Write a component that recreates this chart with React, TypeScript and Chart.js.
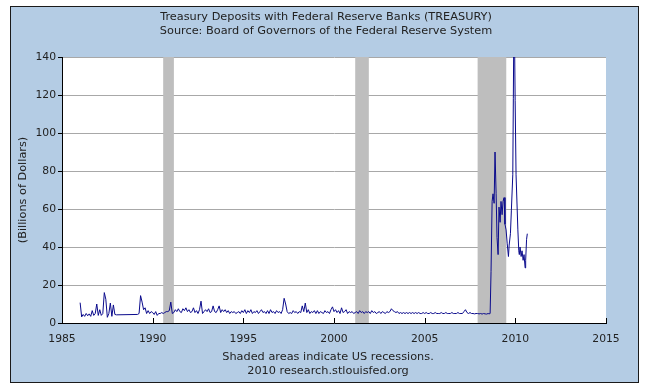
import React, { useEffect, useRef } from "react";
import { Chart, registerables } from "chart.js";

Chart.register(...registerables);

const titleLines = [
  "Treasury Deposits with Federal Reserve Banks (TREASURY)",
  "Source: Board of Governors of the Federal Reserve System",
];
const footerLines = ["Shaded areas indicate US recessions.", "2010 research.stlouisfed.org"];
const yAxisTitle = "(Billions of Dollars)";

const xTicks = [1985, 1990, 1995, 2000, 2005, 2010, 2015];
const yTicks = [0, 20, 40, 60, 80, 100, 120, 140];

const recessionStarts = [1990.58, 2001.17, 2007.92];
const recessionEnds = [1991.17, 2001.92, 2009.5];

// Monthly observations from Jan 1986 (null = no observation)
const monthlyStart = 1986;
const monthlyValues: (number | null)[] = [
  // 1986
  10.7, 3.2, 4.5, 3.5, 5, 3.8, 4.8, 3.5, 6.5, 4, 5, 10,
  // 1987
  4, 7, 4, 5, 16, 12.5, 3, 5, 10.5, 3.5, 9.5, 4.5,
  // 1988
  4.3, null, null, null, null, null, null, null, null, null, null, null,
  // 1989
  null, null, 4.5, 5, 14.4, 11, 7, 8, 5, 6.5, 5, 6,
  // 1990
  5.5, 4.5, 6, 4, 5, 5, 5.5, 5, 5.5, 6, 6, 6.5,
  // 1991
  11, 5, 5.5, 7, 6, 7.5, 6, 5.5, 7.5, 6.5, 8, 6,
  // 1992
  7, 5.5, 6, 8, 5.5, 6.5, 5, 7, 11.5, 5, 6, 7,
  // 1993
  6, 7.5, 5.5, 6, 9, 6, 5.5, 7, 9, 5.5, 7, 6,
  // 1994
  7, 5.5, 6.5, 5, 6, 5.5, 6, 5, 5.5, 6, 5, 6.5,
  // 1995
  5.5, 7, 5, 6.5, 5.5, 7, 5, 6, 5.5, 6.5, 5, 6,
  // 1996
  7, 5.5, 6, 5, 6.5, 5, 7, 5.5, 6, 5, 6.5, 5.5,
  // 1997
  6, 5, 7, 13, 10, 6, 5, 5.5, 5, 6.5, 5.5, 6,
  // 1998
  5, 6, 5.5, 9, 6, 10.5, 5.5, 7, 5, 6, 5.5, 6.5,
  // 1999
  5, 6.5, 5, 6, 5.5, 5, 6.5, 5.5, 6, 5, 7, 8.5,
  // 2000
  6, 7, 5.5, 6.5, 5, 8, 5.5, 6, 7, 5, 6, 5.5,
  // 2001
  6, 5, 5.5, 6, 5, 6.5, 5.5, 6, 5, 6, 5.5, 6,
  // 2002
  5, 6.5, 5.5, 6, 5, 5.5, 6, 5, 6, 5.5, 5, 6,
  // 2003
  5.5, 6, 7.5, 6.5, 6, 5.5, 6, 5, 5.5, 5, 5.5, 5,
  // 2004
  5.5, 5, 5.5, 5, 5.5, 5, 5.5, 5, 5.5, 5, 5, 5.5,
  // 2005
  5, 5.5, 5, 5, 5.5, 5, 5, 5.5, 5, 5, 5, 5.5,
  // 2006
  5, 5, 5.5, 5, 5, 5, 5.5, 5, 5, 5, 5.5, 5,
  // 2007
  5, 5, 6, 7, 5.5, 5, 5.5, 5, 5, 4.8, 5, 5,
  // 2008 (Jan-Jul)
  4.8, 5, 4.7, 5, 4.8, 4.7, 5,
];

// Semi-monthly observations from mid 2008
const lateDates = [
  2008.55, 2008.61, 2008.66, 2008.72, 2008.77, 2008.83, 2008.88, 2008.94, 2008.99,
  2009.05, 2009.1, 2009.16, 2009.21, 2009.27, 2009.32, 2009.38, 2009.43, 2009.49,
  2009.55, 2009.62, 2009.66, 2009.73, 2009.78, 2009.86, 2009.89, 2009.93, 2009.99,
  2010.04, 2010.14, 2010.19, 2010.22, 2010.26, 2010.32, 2010.37, 2010.43, 2010.48,
  2010.54, 2010.57, 2010.62, 2010.66,
];
const lateValues = [
  4.8, 5, 27, 64, 68, 63, 90, 68, 45,
  36, 61, 53, 64, 57, 64, 66, 52, 49,
  42, 35, 41, 47, 59, 78, 118, 175, 117,
  78, 49, 38, 36, 40, 35, 38, 33, 36,
  29, 33, 44, 47,
];

const FONT = "'DejaVu Sans', Verdana, sans-serif";
const TEXT = "#222222";

const framePlugin = {
  id: "frame",
  beforeDraw(chart: any) {
    const { ctx, chartArea } = chart;
    ctx.save();
    ctx.fillStyle = "#ffffff";
    ctx.fillRect(0, 0, chart.width, chart.height);
    ctx.fillStyle = "#B4CCE4";
    ctx.fillRect(10, 6, 629, 377);
    ctx.strokeStyle = "#1a1a1a";
    ctx.lineWidth = 1;
    ctx.strokeRect(10.5, 6.5, 628, 376);
    ctx.fillStyle = "#ffffff";
    ctx.fillRect(chartArea.left, chartArea.top, chartArea.right - chartArea.left, chartArea.bottom - chartArea.top);
    ctx.restore();
  },
  beforeDatasetsDraw(chart: any) {
    const { ctx, chartArea, scales } = chart;
    ctx.save();
    ctx.fillStyle = "#BEBEBE";
    for (let i = 0; i < recessionStarts.length; i++) {
      const a = scales.x.getPixelForValue(recessionStarts[i]);
      const b = scales.x.getPixelForValue(recessionEnds[i]);
      ctx.fillRect(a, chartArea.top, b - a, chartArea.bottom - chartArea.top);
    }
    ctx.restore();
  },
  afterDraw(chart: any) {
    const { ctx, chartArea, scales } = chart;
    ctx.save();
    ctx.strokeStyle = "#000";
    ctx.lineWidth = 1;
    for (const t of xTicks) {
      const px = Math.round(scales.x.getPixelForValue(t)) + 0.5;
      ctx.beginPath();
      ctx.moveTo(px, chartArea.bottom);
      ctx.lineTo(px, chartArea.bottom - 5);
      ctx.stroke();
    }
    ctx.fillStyle = TEXT;
    ctx.font = `11.3px ${FONT}`;
    ctx.textAlign = "center";
    ctx.textBaseline = "middle";
    ctx.fillText(titleLines[0], 326, 17);
    ctx.fillText(titleLines[1], 326, 31);
    ctx.fillText(footerLines[0], 328, 357);
    ctx.fillText(footerLines[1], 328, 371);
    ctx.restore();
  },
};

export default function App() {
  const ref = useRef<HTMLCanvasElement | null>(null);
  useEffect(() => {
    if (!ref.current) return;
    const points: { x: number; y: number | null }[] = [];
    monthlyValues.forEach((v, i) => points.push({ x: monthlyStart + i / 12, y: v }));
    lateDates.forEach((d, i) => points.push({ x: d, y: lateValues[i] }));

    const chart = new Chart(ref.current, {
      type: "line",
      data: {
        datasets: [
          {
            data: points as any,
            borderColor: "#0a0a8c",
            borderWidth: 1,
            pointRadius: 0,
            tension: 0,
            spanGaps: true,
            fill: false,
          },
        ],
      },
      options: {
        animation: false,
        responsive: false,
        devicePixelRatio: 1,
        layout: { padding: { left: 10, right: 41, top: 57, bottom: 43 } },
        plugins: { legend: { display: false }, tooltip: { enabled: false }, title: { display: false } },
        scales: {
          x: {
            type: "linear",
            min: 1985,
            max: 2015,
            afterBuildTicks: (s: any) => {
              s.ticks = xTicks.map((v) => ({ value: v }));
            },
            afterFit: (s: any) => {
              s.height = 24;
            },
            ticks: {
              callback: (v: any) => String(v),
              font: { family: FONT, size: 10.8 },
              color: TEXT,
              padding: 2,
              maxRotation: 0,
              autoSkip: false,
            },
            grid: { display: false },
            border: { display: true, color: "#000", width: 1 },
          },
          y: {
            min: 0,
            max: 140,
            afterBuildTicks: (s: any) => {
              s.ticks = yTicks.map((v) => ({ value: v }));
            },
            afterFit: (s: any) => {
              s.width = 52;
            },
            ticks: {
              callback: (v: any) => String(v),
              font: { family: FONT, size: 10.8 },
              color: TEXT,
              padding: 2,
            },
            grid: { color: "#A8A8A8", tickColor: "#000", tickLength: 4, drawTicks: true },
            border: { display: true, color: "#000", width: 1 },
            title: {
              display: true,
              text: yAxisTitle,
              font: { family: FONT, size: 11.3 },
              color: TEXT,
              padding: { top: 6, bottom: 0 },
            },
          },
        },
      },
      plugins: [framePlugin],
    });
    return () => chart.destroy();
  }, []);
  return (
    <div style={{ position: "fixed", left: 0, top: 0 }}>
      <canvas ref={ref} width={647} height={390} style={{ display: "block" }} />
    </div>
  );
}
